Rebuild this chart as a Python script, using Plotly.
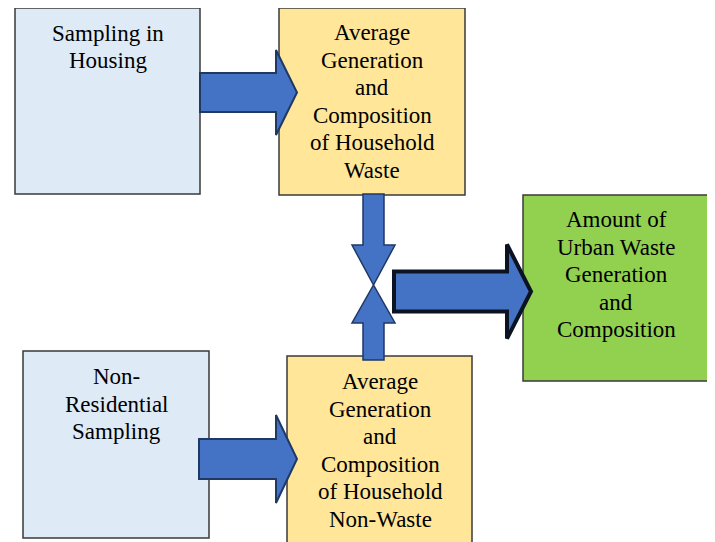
import plotly.graph_objects as go

# ---- data: node labels (one entry per text line) ----
housing_lines = ["Sampling in", "Housing"]
household_lines = ["Average", "Generation", "and", "Composition", "of Household", "Waste"]
urban_lines = ["Amount of", "Urban Waste", "Generation", "and", "Composition"]
nonres_lines = ["Non-", "Residential", "Sampling"]
nonwaste_lines = ["Average", "Generation", "and", "Composition", "of Household", "Non-Waste"]

W, H = 715, 542
OFF = 8  # page body margin compensation
LIGHT_BLUE = "#DEEAF6"
YELLOW = "#FFE699"
GREEN = "#92D050"
ARROW = "#4472C4"
ARROW_EDGE = "#1F3864"
BORDER = "#3A3A3A"
FONT = dict(family="Liberation Serif, Times New Roman, serif", size=23, color="#000000")
LINE_SP = 27.5

# box layout: (x0, y0, x1, y1, fill, lines, center_x, first_baseline)
boxes = [
    (15, 8, 200, 194, LIGHT_BLUE, housing_lines, 107.5, 40.5),
    (279, 8, 465, 195, YELLOW, household_lines, 372, 40),
    (523, 195, 709, 381, GREEN, urban_lines, 616, 227),
    (23, 351, 209, 538, LIGHT_BLUE, nonres_lines, 116, 384),
    (287, 356, 472, 560, YELLOW, nonwaste_lines, 380, 389),
]

fig = go.Figure()
shapes = []
annotations = []

for x0, y0, x1, y1, fill, lines, cx, b0 in boxes:
    shapes.append(dict(type="rect", x0=x0, y0=y0, x1=x1, y1=y1,
                       fillcolor=fill, line=dict(color=BORDER, width=1.5), layer="below"))
    for i, t in enumerate(lines):
        annotations.append(dict(x=cx, y=b0 + i * LINE_SP - 7.5, text=t, showarrow=False,
                                xanchor="center", yanchor="middle", font=FONT))


def h_arrow(x0, xh, xt, yc, half_shaft, half_head):
    return (f"M {x0} {yc-half_shaft} L {xh} {yc-half_shaft} L {xh} {yc-half_head} "
            f"L {xt} {yc} L {xh} {yc+half_head} L {xh} {yc+half_shaft} L {x0} {yc+half_shaft} Z")


def v_arrow(xc, y0, yh, yt, half_shaft, half_head):
    return (f"M {xc-half_shaft} {y0} L {xc-half_shaft} {yh} L {xc-half_head} {yh} "
            f"L {xc} {yt} L {xc+half_head} {yh} L {xc+half_shaft} {yh} L {xc+half_shaft} {y0} Z")


arrows = [
    (h_arrow(200, 276, 297, 92.5, 19.5, 42.5), ARROW_EDGE, 2),
    (h_arrow(199, 276, 297, 459, 20, 44), ARROW_EDGE, 2),
    (v_arrow(373.5, 194, 245, 285, 10.5, 21.5), ARROW_EDGE, 1.5),
    (v_arrow(373.5, 360, 323, 285, 10.5, 21.5), ARROW_EDGE, 1.5),
    (h_arrow(394, 507, 531, 291.5, 20, 47), "#0B1323", 4),
]
for p, edge, w in arrows:
    shapes.append(dict(type="path", path=p, fillcolor=ARROW,
                       line=dict(color=edge, width=w), layer="above"))

fig.update_layout(
    width=W - OFF, height=H - OFF,
    margin=dict(l=0, r=0, t=0, b=0),
    paper_bgcolor="white", plot_bgcolor="white",
    xaxis=dict(range=[OFF, W], visible=False, fixedrange=True),
    yaxis=dict(range=[H, OFF], visible=False, fixedrange=True),
    shapes=shapes, annotations=annotations, showlegend=False,
)
fig.write_html("out.html")
